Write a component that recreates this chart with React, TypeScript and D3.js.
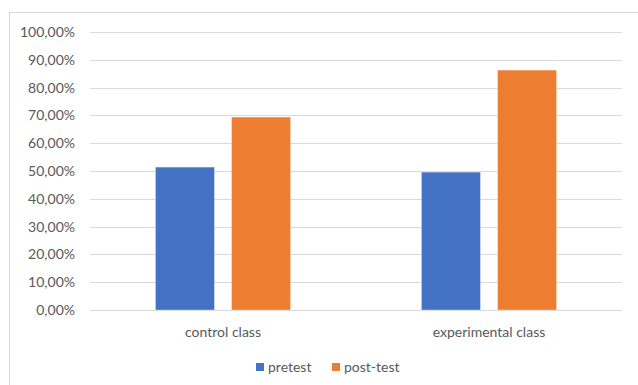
import React from "react";
import * as d3 from "d3";

const categories = ["control class", "experimental class"];
const seriesNames = ["pretest", "post-test"];
const pretest = [51.4, 49.6];
const posttest = [69.4, 86.3];
const yTicks = [0, 10, 20, 30, 40, 50, 60, 70, 80, 90, 100];
const colors = ["#4472C4", "#ED7D31"];

const W = 638;
const H = 385;
const plot = { left: 90, right: 622, top: 32, bottom: 310 };
const fontFamily = "Lato, 'Open Sans', sans-serif";
const textColor = "#595959";

const fmt = (v: number) => v.toFixed(2).replace(".", ",") + "%";

export default function App() {
  const x0 = d3.scaleBand<string>().domain(categories).range([plot.left, plot.right]).padding(0);
  const x1 = d3
    .scaleBand<string>()
    .domain(seriesNames)
    .range([0, x0.bandwidth()])
    .paddingInner(0.224)
    .paddingOuter(0.86);
  const y = d3.scaleLinear().domain([0, 100]).range([plot.bottom, plot.top]);

  const values = [pretest, posttest];

  return (
    <svg
      width={W}
      height={H}
      style={{ position: "absolute", left: 0, top: 0, background: "#fff" }}
      fontFamily={fontFamily}
    >
      <rect x={0} y={0} width={W} height={H} fill="#fff" />
      {/* chart frame */}
      <rect x={9.5} y={12.5} width={W + 10} height={H + 10} fill="none" stroke="#d9d9d9" strokeWidth={1} />

      {/* gridlines and y labels */}
      {yTicks.map((t) => (
        <g key={t}>
          <line
            x1={plot.left}
            x2={plot.right}
            y1={Math.round(y(t)) + 0.5}
            y2={Math.round(y(t)) + 0.5}
            stroke="#d9d9d9"
            strokeWidth={1.2}
          />
          <text
            x={75}
            y={y(t)}
            dy="0.35em"
            textAnchor="end"
            fontSize={14}
            fill={textColor}
          >
            {fmt(t)}
          </text>
        </g>
      ))}

      {/* bars */}
      {categories.map((c, ci) => (
        <g key={c} transform={`translate(${x0(c)},0)`}>
          {seriesNames.map((s, si) => (
            <rect
              key={s}
              x={x1(s)}
              y={y(values[si][ci])}
              width={x1.bandwidth()}
              height={y(0) - y(values[si][ci])}
              fill={colors[si]}
              stroke="#fff"
              strokeOpacity={0.35}
              strokeWidth={1}
            />
          ))}
          <text
            x={x0.bandwidth() / 2}
            y={332}
            dy="0.35em"
            textAnchor="middle"
            fontSize={14}
            fill={textColor}
          >
            {c}
          </text>
        </g>
      ))}

      {/* legend */}
      {seriesNames.map((s, si) => {
        const lx = si === 0 ? 256 : 332;
        return (
          <g key={s}>
            <rect x={lx} y={363} width={8} height={8} fill={colors[si]} />
            <text x={lx + 12} y={367} dy="0.35em" fontSize={14} fill={textColor}>
              {s}
            </text>
          </g>
        );
      })}
    </svg>
  );
}
